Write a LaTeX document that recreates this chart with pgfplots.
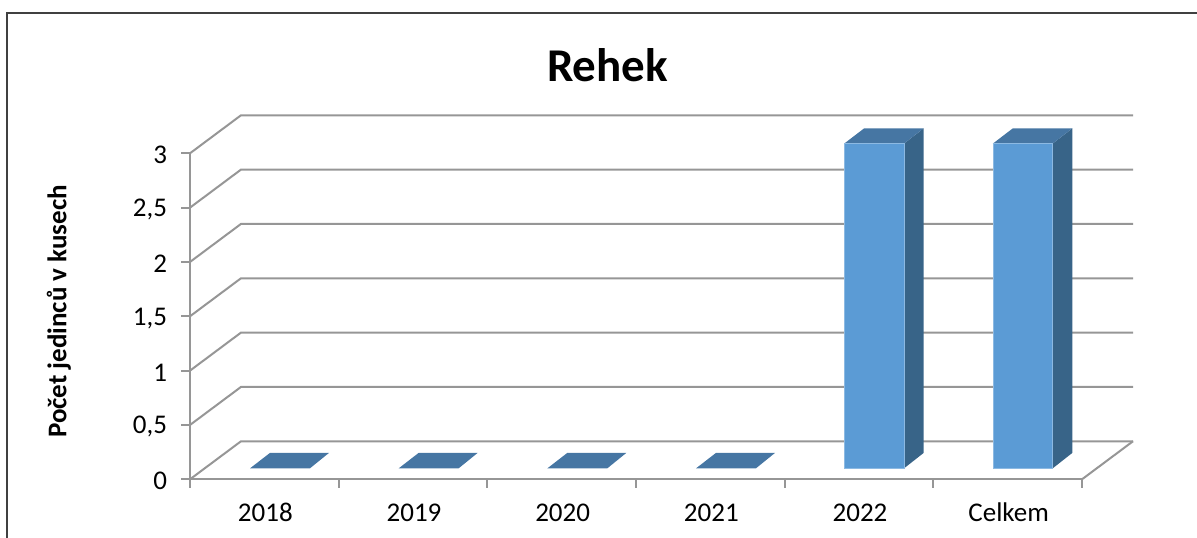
\documentclass[border=0pt]{standalone}
\usepackage{pgfplots}
\pgfplotsset{compat=1.18}
\usepackage{fontspec}
\setmainfont{Carlito}
\definecolor{gridc}{HTML}{969696}
\definecolor{frontc}{HTML}{5B9BD5}
\definecolor{topc}{HTML}{4676A3}
\definecolor{sidec}{HTML}{386488}
\begin{document}
\begin{tikzpicture}[x=1pt,y=1pt]
\useasboundingbox (0,0) rectangle (1197,538);
\draw[color=black!75,line width=2pt] (1197,524.5) -- (7,524.5) -- (7,0);
\node[font=\bfseries\fontsize{47}{47}\selectfont,text=black] at (607.5,473) {Rehek};
\begin{axis}[
  at={(190pt,58.7pt)},anchor=south west,
  scale only axis,width=892pt,height=326pt,
  xmin=0,xmax=6,ymin=0,ymax=3,
  clip=false,
  axis x line*=bottom,axis y line*=left,
  axis line style={gridc,line width=2pt,-},
  tick style={gridc,line width=1.8pt},
  major tick length=8.5pt,
  tick align=outside,
  xtick={0,1,2,3,4,5,6},
  x tick label as interval,
  xticklabels={2018,2019,2020,2021,2022,Celkem},
  ytick={0,0.5,1,1.5,2,2.5,3},
  yticklabels={0,{0,5},1,{1,5},2,{2,5},3},
  tick label style={font=\fontsize{27}{27}\selectfont,text=black},
  x tick label style={yshift=-13pt,xshift=1pt,text height=17pt,text depth=0pt},
  y tick label style={xshift=-11pt,yshift=-2pt},
  ylabel={\bfseries Počet jedinců v kusech},
  ylabel style={font=\fontsize{27}{27}\selectfont,text=black},
  every axis y label/.append style={at={(axis description cs:-0.147,0.515)},anchor=center},
]
% walls: back gridlines and left-side diagonals
\foreach \v in {0,0.5,1,1.5,2,2.5,3}{
  \pgfmathsetmacro{\w}{\v+0.35}
  \edef\tmp{\noexpand\addplot[gridc,line width=2pt,forget plot] coordinates {(0,\v) (0.343,\w) (6.343,\w)};}
  \tmp
}
\addplot[gridc,line width=2pt,forget plot] coordinates {(6,0) (6.343,0.35)};
% zero-height bars: top face only
\addplot[fill=topc,draw=none,forget plot] coordinates {(0.404,0.101) (0.807,0.101) (0.935,0.243) (0.538,0.243)} -- cycle;
\addplot[fill=topc,draw=none,forget plot] coordinates {(1.404,0.101) (1.807,0.101) (1.935,0.243) (1.538,0.243)} -- cycle;
\addplot[fill=topc,draw=none,forget plot] coordinates {(2.404,0.101) (2.807,0.101) (2.935,0.243) (2.538,0.243)} -- cycle;
\addplot[fill=topc,draw=none,forget plot] coordinates {(3.404,0.101) (3.807,0.101) (3.935,0.243) (3.538,0.243)} -- cycle;
% 2022
\addplot[fill=sidec,draw=none,forget plot] coordinates {(4.803,0.101) (4.803,3.09) (4.935,3.23) (4.935,0.243)} -- cycle;
\addplot[fill=topc,draw=none,forget plot] coordinates {(4.401,3.09) (4.803,3.09) (4.935,3.23) (4.535,3.23)} -- cycle;
\addplot[fill=frontc,draw=frontc!70!white,line width=0.6pt,forget plot] coordinates {(4.401,0.101) (4.803,0.101) (4.803,3.09) (4.401,3.09)} -- cycle;
% Celkem
\addplot[fill=sidec,draw=none,forget plot] coordinates {(5.803,0.101) (5.803,3.09) (5.935,3.23) (5.935,0.243)} -- cycle;
\addplot[fill=topc,draw=none,forget plot] coordinates {(5.401,3.09) (5.803,3.09) (5.935,3.23) (5.535,3.23)} -- cycle;
\addplot[fill=frontc,draw=frontc!70!white,line width=0.6pt,forget plot] coordinates {(5.401,0.101) (5.803,0.101) (5.803,3.09) (5.401,3.09)} -- cycle;
\end{axis}
\end{tikzpicture}
\end{document}
